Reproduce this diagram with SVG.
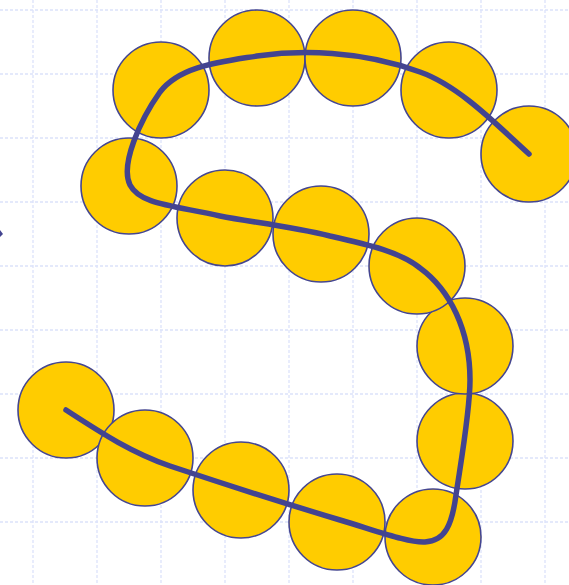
<svg xmlns="http://www.w3.org/2000/svg" width="569" height="585" viewBox="0 0 569 585">
<style>
.g line{stroke:#dce2fa;stroke-width:1.3;stroke-dasharray:3,2}
.n circle{fill:#ffcc00;stroke:#454690;stroke-width:1.6}
.c path{fill:none;stroke:#434490;stroke-width:5.5;stroke-linecap:round;stroke-linejoin:round}
</style>
<rect width="569" height="585" fill="#fff"/>
<g class="g">
<line x1="33" y1="0" x2="33" y2="585"/><line x1="97" y1="0" x2="97" y2="585"/><line x1="161" y1="0" x2="161" y2="585"/><line x1="225" y1="0" x2="225" y2="585"/><line x1="289" y1="0" x2="289" y2="585"/><line x1="353" y1="0" x2="353" y2="585"/><line x1="417" y1="0" x2="417" y2="585"/><line x1="481" y1="0" x2="481" y2="585"/><line x1="545" y1="0" x2="545" y2="585"/>
<line x1="0" y1="10" x2="569" y2="10"/><line x1="0" y1="74" x2="569" y2="74"/><line x1="0" y1="138" x2="569" y2="138"/><line x1="0" y1="202" x2="569" y2="202"/><line x1="0" y1="266" x2="569" y2="266"/><line x1="0" y1="330" x2="569" y2="330"/><line x1="0" y1="394" x2="569" y2="394"/><line x1="0" y1="458" x2="569" y2="458"/><line x1="0" y1="522" x2="569" y2="522"/>
</g>
<polygon points="0,230 3,234 0,237" fill="#434490"/>
<g class="n">
<g id="n1"><circle cx="66" cy="410" r="48"/></g>
<g id="n2"><circle cx="145" cy="458" r="48"/></g>
<g id="n3"><circle cx="241" cy="490" r="48"/></g>
<g id="n4"><circle cx="337" cy="522" r="48"/></g>
<g id="n5"><circle cx="433" cy="537" r="48"/></g>
<g id="n6"><circle cx="465" cy="441" r="48"/></g>
<g id="n7"><circle cx="465" cy="346" r="48"/></g>
<g id="n8"><circle cx="417" cy="266" r="48"/></g>
<g id="n9"><circle cx="321" cy="234" r="48"/></g>
<g id="n10"><circle cx="225" cy="218" r="48"/></g>
<g id="n11"><circle cx="129" cy="186" r="48"/></g>
<g id="n12"><circle cx="161" cy="90" r="48"/></g>
<g id="n13"><circle cx="257" cy="58" r="48"/></g>
<g id="n14"><circle cx="353" cy="58" r="48"/></g>
<g id="n15"><circle cx="449" cy="90" r="48"/></g>
<g id="n16"><circle cx="529" cy="154" r="48"/></g>
</g>
<g class="c">
<path d="M66,410 C100,432 130,452 170,466 C230,486 290,505 340,520 C380,532 410,543 425,542 C445,541 452,525 456,495 C462,455 470,410 470,380 C470,330 450,290 420,268 C400,252 370,245 330,236 C290,226 250,222 220,216 C170,205 140,204 130,185 C120,165 140,120 160,92 C180,66 220,62 257,56 C300,50 360,50 420,72 C460,86 500,128 529,154"/>
</g>
</svg>
